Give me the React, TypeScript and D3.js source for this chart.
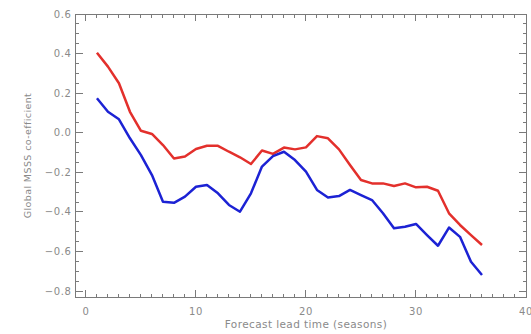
import React from "react";
import * as d3 from "d3";

const leadTimes = d3.range(1, 37);
const redSeries = [
  0.404, 0.334, 0.25, 0.106, 0.01, -0.006, -0.062, -0.13, -0.12, -0.082,
  -0.066, -0.066, -0.096, -0.124, -0.158, -0.09, -0.107, -0.075, -0.084, -0.074,
  -0.017, -0.028, -0.084, -0.163, -0.239, -0.256, -0.256, -0.269, -0.256, -0.276,
  -0.273, -0.293, -0.407, -0.466, -0.517, -0.567,
];
const blueSeries = [
  0.174, 0.106, 0.068, -0.028, -0.113, -0.214, -0.349, -0.354, -0.323, -0.273,
  -0.264, -0.306, -0.365, -0.399, -0.306, -0.171, -0.118, -0.096, -0.138, -0.197,
  -0.289, -0.327, -0.32, -0.289, -0.315, -0.34, -0.407, -0.483, -0.475, -0.461,
  -0.517, -0.571, -0.479, -0.526, -0.652, -0.719,
];
const xTickValues = [0, 10, 20, 30, 40];
const yTickValues = [-0.8, -0.6, -0.4, -0.2, 0.0, 0.2, 0.4, 0.6];
const xTitle = "Forecast lead time (seasons)";
const yTitle = "Global MSSS co-efficient";

const W = 531;
const H = 334;
const L = 75.5, R = 526, T = 14, B = 297;

export default function App() {
  const x = d3.scaleLinear().domain([-0.95, 40]).range([L, R]);
  const y = d3.scaleLinear().domain([-0.83, 0.6]).range([B, T]);
  const line = d3
    .line<number>()
    .x((_, i) => x(leadTimes[i]))
    .y((d) => y(d));
  const axisColor = "#7a7a7a";
  const textColor = "#8a8a8a";
  const xMinor = d3.range(0, 41, 1);
  const yMinor = d3.range(-16, 13, 1).map((v) => v * 0.05);
  const major = 7;
  const minor = 3.5;
  const font = "'DejaVu Sans', sans-serif";
  return (
    <svg
      width={W}
      height={H}
      style={{ position: "absolute", left: 0, top: 0, background: "#fff" }}
    >
      <g stroke={axisColor} strokeWidth={1} fill="none" shapeRendering="crispEdges">
        <rect x={L} y={T} width={R - L} height={B - T} />
        {xMinor.map((v) => {
          const len = v % 10 === 0 ? major : minor;
          return (
            <g key={"x" + v}>
              <line x1={x(v)} x2={x(v)} y1={B} y2={B - len} />
              <line x1={x(v)} x2={x(v)} y1={T} y2={T + len} />
            </g>
          );
        })}
        {yMinor.map((v, i) => {
          const isMajor = Math.abs(v * 5 - Math.round(v * 5)) < 1e-6;
          const len = isMajor ? major : minor;
          return (
            <g key={"y" + i}>
              <line x1={L} x2={L + len} y1={y(v)} y2={y(v)} />
              <line x1={R} x2={R - len} y1={y(v)} y2={y(v)} />
            </g>
          );
        })}
      </g>
      <g fill={textColor} fontFamily={font} fontSize={10}>
        {yTickValues.map((v) => (
          <text key={v} x={L - 4} y={y(v)} dy="0.35em" textAnchor="end" letterSpacing={0.6}>
            {v === 0 ? "0.0" : d3.format(".1f")(v).replace("-", "\u2212")}
          </text>
        ))}
        {xTickValues.map((v) => (
          <text key={v} x={x(v)} y={315} textAnchor="middle" letterSpacing={0.6}>
            {v}
          </text>
        ))}
        <text x={306} y={328} textAnchor="middle" fontSize={10.5} letterSpacing={0.4}>
          {xTitle}
        </text>
        <text
          transform={`translate(31,${(T + B) / 2}) rotate(-90)`}
          textAnchor="middle"
          fontSize={9.5}
          letterSpacing={0.4}
        >
          {yTitle}
        </text>
      </g>
      <path d={line(redSeries) ?? ""} fill="none" stroke="#e3302c" strokeWidth={2.5} strokeLinejoin="round" />
      <path d={line(blueSeries) ?? ""} fill="none" stroke="#1c22d4" strokeWidth={2.5} strokeLinejoin="round" />
    </svg>
  );
}
